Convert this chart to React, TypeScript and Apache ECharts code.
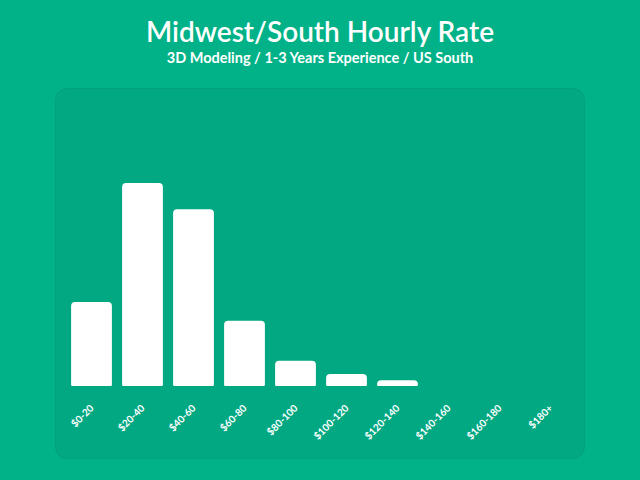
import React, { useEffect, useRef } from "react";
import * as echarts from "echarts";

const categories = ["$0-20", "$20-40", "$40-60", "$60-80", "$80-100", "$100-120", "$120-140", "$140-160", "$160-180", "$180+"];
const values = [14.7, 35.5, 30.9, 11.4, 4.4, 2.1, 1.0, 0, 0, 0];
const titleText = "Midwest/South Hourly Rate";
const subtitleText = "3D Modeling / 1-3 Years Experience / US South";

export default function App() {
  const ref = useRef<HTMLDivElement>(null);
  useEffect(() => {
    const chart = echarts.init(ref.current!, null, { renderer: "svg" });
    chart.setOption({
      animation: false,
      backgroundColor: "#01b288",
      textStyle: { fontFamily: "Lato" },
      title: {
        text: titleText,
        subtext: subtitleText,
        left: "center",
        top: 12,
        itemGap: 5,
        textStyle: { color: "#ffffff", fontSize: 28, fontWeight: 600, fontFamily: "Lato" },
        subtextStyle: { color: "#ffffff", fontSize: 14.5, fontWeight: "bold", fontFamily: "Lato" },
      },
      graphic: [
        {
          type: "rect",
          z: -1,
          shape: { x: 55.5, y: 88.5, width: 529, height: 370, r: 12 },
          style: { fill: "#01a882", stroke: "#03a07d", lineWidth: 1 },
        },
      ],
      grid: { left: 66, right: 64, top: 100, bottom: 94 },
      xAxis: {
        type: "category",
        data: categories,
        axisLine: { show: false },
        axisTick: { show: false },
        axisLabel: {
          color: "#ffffff",
          rotate: 45,
          fontSize: 10,
          fontWeight: "bold",
          margin: 20,
          interval: 0,
        },
      },
      yAxis: {
        type: "value",
        min: 0,
        max: 50,
        show: false,
        splitLine: { show: false },
      },
      series: [
        {
          type: "bar",
          data: values,
          barCategoryGap: "20%",
          itemStyle: { color: "#ffffff", borderRadius: [4, 4, 1, 1] },
        },
      ],
    });
    return () => chart.dispose();
  }, []);
  return <div ref={ref} style={{ width: 640, height: 480, position: "absolute", left: 0, top: 0 }} />;
}
